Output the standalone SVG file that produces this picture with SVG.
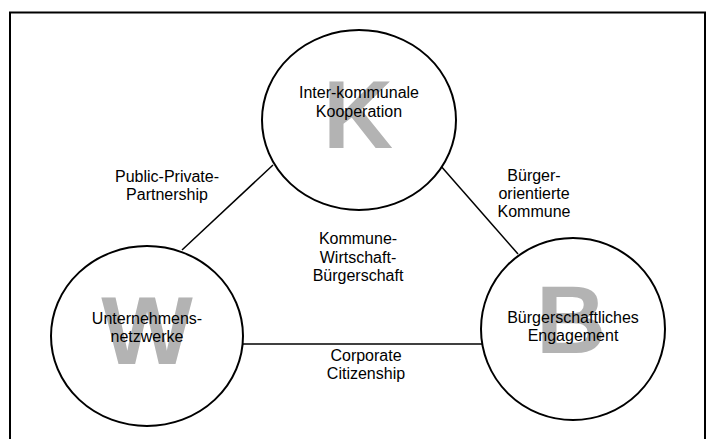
<svg xmlns="http://www.w3.org/2000/svg" width="709" height="439" viewBox="0 0 709 439">
<style>
.frame{fill:none;stroke:#000;stroke-width:2}
.node{fill:#fff;stroke:#000;stroke-width:2}
.edge{stroke:#000;stroke-width:1.5;fill:none}
.big{font-family:"Liberation Sans",Arial,sans-serif;font-weight:bold;font-size:97px;fill:#b3b3b3;text-anchor:middle}
.t{font-family:"Liberation Sans",Arial,sans-serif;font-size:16px;fill:#000;text-anchor:middle}
</style>
<rect width="709" height="439" fill="#fff"/>
<rect class="frame" x="10" y="12.5" width="695" height="440"/>
<g id="connectors">
<line class="edge" x1="182" y1="250" x2="273" y2="165"/>
<line class="edge" x1="440" y1="165" x2="518" y2="254"/>
<line class="edge" x1="243" y1="344" x2="482" y2="344"/>
</g>
<g id="edge-labels">
<text class="t" x="167" y="182">Public-Private-</text>
<text class="t" x="167" y="200">Partnership</text>
<text class="t" x="534" y="181">Bürger-</text>
<text class="t" x="534" y="199">orientierte</text>
<text class="t" x="534" y="217">Kommune</text>
<text class="t" x="358" y="244">Kommune-</text>
<text class="t" x="358" y="263">Wirtschaft-</text>
<text class="t" x="358" y="281">Bürgerschaft</text>
<text class="t" x="366" y="361">Corporate</text>
<text class="t" x="366" y="379">Citizenship</text>
</g>
<g id="node-K">
<ellipse class="node" cx="359" cy="120" rx="97" ry="90"/>
<text class="big" x="358" y="148">K</text>
<text class="t" x="359" y="98">Inter-kommunale</text>
<text class="t" x="359" y="117">Kooperation</text>
</g>
<g id="node-W">
<ellipse class="node" cx="147" cy="336" rx="96" ry="90"/>
<text class="big" x="147" y="364">W</text>
<text class="t" x="147" y="324">Unternehmens-</text>
<text class="t" x="147" y="342">netzwerke</text>
</g>
<g id="node-B">
<ellipse class="node" cx="573" cy="329" rx="92" ry="91"/>
<text class="big" x="571" y="353">B</text>
<text class="t" x="573" y="323">Bürgerschaftliches</text>
<text class="t" x="573" y="341">Engagement</text>
</g>
</svg>
